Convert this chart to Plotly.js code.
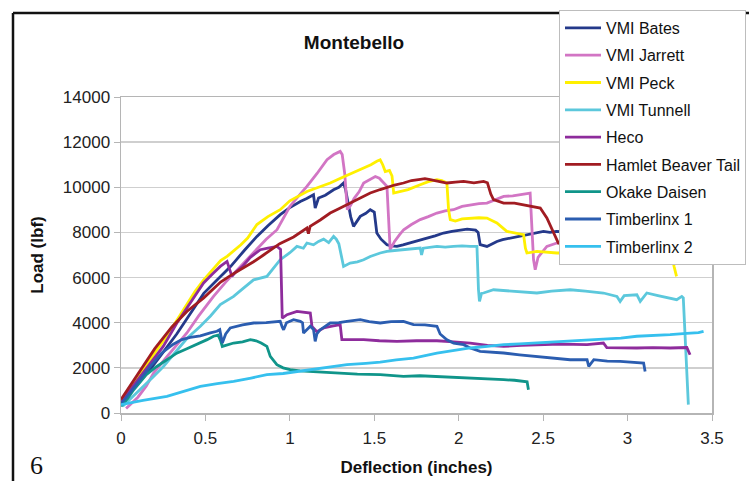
<!DOCTYPE html>
<html>
<head>
<meta charset="utf-8">
<script src="https://cdn.plot.ly/plotly-3.0.1.min.js"></script>
<style>html,body{margin:0;padding:0;background:#fff;}#chart{width:749px;height:481px;}</style>
</head>
<body>
<div id="chart"></div>
<script>
// ---- data (deflection in inches, load in lbf) ----
const seriesNames = ["VMI Bates","VMI Jarrett","VMI Peck","VMI Tunnell","Heco","Hamlet Beaver Tail","Okake Daisen","Timberlinx 1","Timberlinx 2"];

const batesX = [0,0.05,0.1,0.18,0.25,0.33,0.41,0.49,0.57,0.65,0.73,0.805,0.87,0.943,1.0,1.062,1.1,1.14,1.15,1.17,1.21,1.259,1.29,1.318,1.33,1.36,1.377,1.4,1.417,1.45,1.476,1.5,1.515,1.54,1.575,1.6,1.634,1.67,1.713,1.76,1.812,1.86,1.91,1.96,2.009,2.05,2.1,2.115,2.127,2.167,2.2,2.226,2.26,2.305,2.35,2.404,2.45,2.502,2.54,2.58,2.7,2.85,3.0,3.08,3.095];
const batesY = [400,850,1300,2000,2700,3500,4400,5300,5900,6500,7200,7825,8300,8786,9100,9374,9500,9670,9080,9523,9650,9890,10000,10190,9900,8700,8267,8500,8710,8850,9006,8900,7974,7700,7456,7400,7380,7450,7531,7650,7752,7850,7974,8050,8120,8150,8100,8000,7456,7380,7500,7600,7680,7752,7820,7900,7950,8045,8000,8045,8000,7950,7900,7750,6790];

const jarrettX = [0.03,0.06,0.1,0.15,0.193,0.25,0.32,0.39,0.46,0.548,0.62,0.706,0.76,0.805,0.86,0.924,0.96,1.0,1.05,1.101,1.16,1.22,1.26,1.298,1.31,1.325,1.34,1.36,1.38,1.41,1.437,1.476,1.506,1.53,1.575,1.594,1.62,1.65,1.674,1.72,1.772,1.82,1.871,1.92,1.969,2.02,2.068,2.12,2.167,2.22,2.266,2.32,2.364,2.423,2.433,2.443,2.453,2.47,2.49,2.522,2.581,2.7,2.78];
const jarrettY = [200,400,700,1200,1772,2300,2900,3544,4300,5165,5800,6494,6900,7300,7700,8120,8600,9150,9600,10040,10600,11220,11450,11589,11450,10600,9006,9200,9500,9800,10190,10335,10480,10400,10040,7235,7600,7900,8120,8350,8567,8700,8860,8950,9006,9150,9228,9280,9300,9450,9596,9620,9670,9745,8270,6800,6350,6900,7088,7380,7531,7700,7800];

const peckX = [0,0.06,0.12,0.18,0.23,0.27,0.33,0.39,0.44,0.49,0.54,0.59,0.63,0.67,0.71,0.75,0.805,0.87,0.943,1.0,1.05,1.101,1.17,1.239,1.3,1.36,1.417,1.48,1.515,1.535,1.55,1.565,1.59,1.605,1.615,1.65,1.7,1.772,1.82,1.871,1.9,1.93,1.94,1.95,1.98,2.02,2.068,2.12,2.167,2.226,2.285,2.345,2.384,2.395,2.404,2.463,2.581,2.75,2.95,3.15,3.265,3.275,3.29];
const peckY = [450,1150,1800,2450,2950,3400,4100,4800,5400,5900,6350,6750,6950,7200,7450,7750,8350,8700,9006,9400,9600,9817,10000,10189,10400,10600,10778,11000,11150,11220,11000,10700,10750,10500,9745,9800,9900,10113,10250,10335,10300,10190,9000,8567,8500,8600,8638,8650,8638,8417,8045,7974,7900,7300,7088,7159,7088,7100,7050,7000,6950,6500,6050];

const tunnellX = [0.01,0.06,0.12,0.19,0.25,0.32,0.39,0.47,0.53,0.588,0.667,0.72,0.785,0.864,0.9,0.943,1.0,1.042,1.08,1.101,1.14,1.17,1.2,1.23,1.259,1.275,1.29,1.318,1.357,1.4,1.437,1.476,1.535,1.575,1.62,1.673,1.72,1.772,1.78,1.79,1.871,1.92,1.969,2.02,2.068,2.108,2.117,2.123,2.135,2.147,2.206,2.3,2.38,2.463,2.55,2.66,2.75,2.857,2.937,2.956,2.98,3.055,3.075,3.114,3.18,3.252,3.291,3.321,3.33,3.36];
const tunnellY = [300,650,1100,1600,2050,2650,3300,3840,4300,4800,5165,5500,5900,6050,6400,6790,7100,7380,7300,7531,7450,7600,7700,7550,7825,7700,7500,6494,6645,6700,6790,6937,7088,7159,7200,7235,7280,7310,7000,7300,7380,7350,7380,7400,7380,7380,5460,4944,5300,5316,5460,5400,5350,5316,5400,5460,5400,5316,5165,4944,5200,5240,4944,5316,5200,5094,5020,5165,5100,368];

const hecoX = [0,0.05,0.1,0.17,0.25,0.331,0.41,0.489,0.54,0.588,0.628,0.64,0.657,0.68,0.72,0.766,0.825,0.87,0.924,0.945,0.955,0.983,1.042,1.121,1.131,1.16,1.2,1.25,1.298,1.308,1.37,1.437,1.53,1.634,1.75,1.871,1.97,2.068,2.17,2.266,2.37,2.463,2.6,2.76,2.857,2.877,2.95,3.055,3.15,3.252,3.351,3.37];
const hecoY = [500,1000,1500,2200,2950,3987,4900,5760,6150,6494,6716,6400,6050,6250,6500,6900,7235,7300,7380,7250,4200,4354,4500,4430,3840,3600,3766,3850,3912,3247,3250,3247,3200,3172,3200,3200,3150,3100,3000,2950,3000,3025,3050,3025,3100,2900,2880,2880,2900,2880,2900,2580];

const hamletX = [0,0.05,0.1,0.2,0.3,0.39,0.49,0.59,0.65,0.72,0.785,0.844,0.94,1.022,1.101,1.11,1.12,1.18,1.239,1.29,1.338,1.39,1.437,1.476,1.535,1.575,1.62,1.673,1.72,1.772,1.8,1.831,1.88,1.93,1.98,2.029,2.09,2.147,2.17,2.19,2.206,2.266,2.33,2.384,2.443,2.483,2.522,2.561,2.59,2.7,2.85,2.92,2.937];
const hamletY = [600,1150,1700,2850,3800,4500,5100,5800,6100,6400,6700,7000,7500,7800,8195,7950,8267,8550,8860,9050,9228,9400,9596,9745,9900,10000,10100,10190,10300,10350,10380,10335,10250,10190,10230,10260,10200,10260,10200,9700,9450,9300,9300,9228,9150,9080,8640,7974,7531,7300,7100,7000,6716];

const okakeX = [0,0.04,0.075,0.15,0.21,0.272,0.33,0.39,0.47,0.51,0.548,0.575,0.59,0.6,0.667,0.72,0.766,0.8,0.83,0.864,0.884,0.923,0.96,1.002,1.06,1.121,1.19,1.259,1.4,1.535,1.673,1.77,1.871,1.97,2.068,2.17,2.266,2.33,2.384,2.405,2.413];
const okakeY = [300,650,1030,1700,2050,2360,2650,2850,3100,3250,3400,3450,3200,2950,3100,3150,3247,3200,3100,2950,2510,2140,2000,1918,1870,1843,1800,1772,1720,1697,1620,1650,1620,1580,1550,1500,1475,1450,1400,1380,1030];

const linx1X = [0,0.05,0.1,0.173,0.24,0.31,0.36,0.41,0.47,0.529,0.568,0.585,0.6,0.62,0.647,0.72,0.785,0.86,0.943,0.955,0.963,0.98,1.022,1.062,1.075,1.081,1.1,1.121,1.14,1.15,1.16,1.18,1.239,1.29,1.338,1.417,1.47,1.535,1.6,1.673,1.732,1.8,1.871,1.89,1.93,1.97,2.029,2.068,2.127,2.2,2.266,2.36,2.463,2.56,2.66,2.76,2.77,2.8,2.88,2.956,3.03,3.095,3.104];
const linx1Y = [400,850,1350,2065,2650,3050,3250,3350,3420,3550,3620,3690,3100,3500,3766,3900,3987,4000,4060,3800,3690,4000,4133,4060,4000,3544,3700,3840,3700,3172,3500,3690,3987,4000,4060,4133,4050,3987,4050,4060,3912,3900,3840,3500,3247,3100,3025,2880,2730,2700,2658,2580,2510,2430,2360,2360,2065,2360,2300,2286,2250,2215,1843];

const linx2X = [0,0.05,0.13,0.272,0.37,0.47,0.57,0.667,0.77,0.864,0.96,1.062,1.2,1.338,1.45,1.535,1.63,1.732,1.871,1.97,2.068,2.17,2.266,2.36,2.463,2.56,2.66,2.76,2.857,2.96,3.055,3.15,3.252,3.35,3.42,3.45];
const linx2Y = [370,450,560,735,950,1180,1300,1400,1550,1697,1750,1850,1980,2140,2200,2250,2350,2436,2658,2770,2880,2950,3025,3060,3100,3140,3172,3210,3247,3320,3400,3430,3470,3530,3560,3620];

const xTickVals = [0,0.5,1,1.5,2,2.5,3,3.5];
const xTickText = ["0","0.5","1","1.5","2","2.5","3","3.5"];
const yTickVals = [0,2000,4000,6000,8000,10000,12000,14000];
const yTickText = ["0","2000","4000","6000","8000","10000","12000","14000"];

const colors = ["#24398A","#D275C4","#FFF000","#5CC8DC","#8E2C9C","#A11C22","#10958A","#2B5DB0","#36C0EE"];
const xs = [batesX,jarrettX,peckX,tunnellX,hecoX,hamletX,okakeX,linx1X,linx2X];
const ys = [batesY,jarrettY,peckY,tunnellY,hecoY,hamletY,okakeY,linx1Y,linx2Y];

const FONT = "Liberation Sans, Arial, Helvetica, sans-serif";

const traces = seriesNames.map((n,i)=>({
  type:"scatter", mode:"lines", name:n, x:xs[i], y:ys[i],
  legendgroup:"g"+i,
  line:{color:colors[i], width:2.8}
}));

// figure geometry helpers (paper coords)
const L=121, R=712, T=97, B=413;
const px = v => (v-L)/(R-L);
const py = v => (B-v)/(B-T);

const layout = {
  width:749, height:481,
  margin:{l:L, r:749-R, t:T, b:481-B, pad:0, autoexpand:false},
  paper_bgcolor:"#ffffff", plot_bgcolor:"#ffffff",
  font:{family:FONT, color:"#222", size:16},
  title:{text:"<b>Montebello</b>", font:{family:FONT, size:19, color:"#111"},
         xref:"container", yref:"container", x:354/749, y:1-42/481, xanchor:"center", yanchor:"middle"},
  showlegend:true,
  legend:{x:px(559), y:py(10), xanchor:"left", yanchor:"top",
          bgcolor:"#ffffff", bordercolor:"#bdbdbd", borderwidth:1,
          font:{family:FONT, size:16, color:"#111"},
          traceorder:"grouped", tracegroupgap:3.5, itemwidth:36, maxheight:320},
  xaxis:{range:[0,3.5], tickvals:xTickVals, ticktext:xTickText, showgrid:false, zeroline:false,
         showline:true, linecolor:"#b5b5b5", linewidth:1.5, mirror:true,
         ticks:"outside", ticklen:6, tickcolor:"#b5b5b5", ticklabelstandoff:3,
         tickfont:{family:FONT,size:17,color:"#222"},
         title:{text:"<b>Deflection (inches)</b>", font:{family:FONT,size:17,color:"#111"}, standoff:14},
         automargin:false, fixedrange:true},
  yaxis:{range:[0,14000], tickvals:yTickVals, ticktext:yTickText, showgrid:true, gridcolor:"#cfcfcf", gridwidth:1.5,
         zeroline:false, showline:true, linecolor:"#b5b5b5", linewidth:1.5, mirror:true,
         ticks:"outside", ticklen:6, tickcolor:"#b5b5b5", tickfont:{family:FONT,size:17,color:"#222"},
         title:{text:"<b>Load (lbf)</b>", font:{family:FONT,size:17,color:"#111"}, standoff:15},
         automargin:false, fixedrange:true},
  shapes:[
    {type:"line", xref:"paper", yref:"paper", x0:px(13), x1:px(760), y0:py(13), y1:py(13), line:{color:"#111", width:2.5}},
    {type:"line", xref:"paper", yref:"paper", x0:px(13), x1:px(13), y0:py(13), y1:py(490), line:{color:"#111", width:2.5}}
  ],
  annotations:[
    {text:"6", xref:"paper", yref:"paper", x:px(28), y:py(465), xanchor:"left", yanchor:"middle", showarrow:false,
     font:{family:"Liberation Serif, DejaVu Serif, serif", size:26, color:"#111"}}
  ]
};

Plotly.newPlot("chart", traces, layout, {staticPlot:true, displayModeBar:false});
</script>
</body>
</html>
